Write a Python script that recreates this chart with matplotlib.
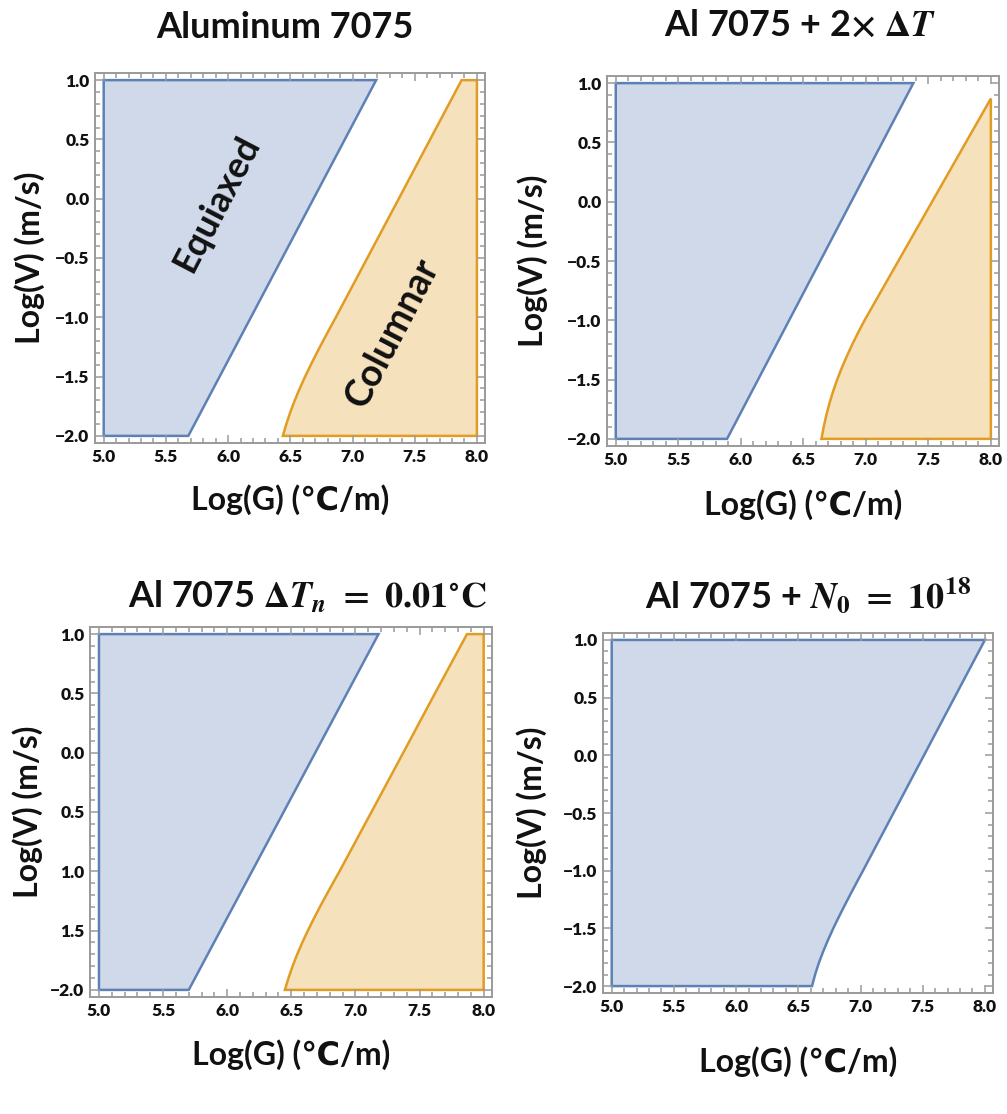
import numpy as np
import matplotlib
matplotlib.use("Agg")
import matplotlib.pyplot as plt
from matplotlib.ticker import MultipleLocator, FixedLocator, FixedFormatter

plt.rcParams['font.family'] = ['Lato', 'DejaVu Sans']
plt.rcParams['font.weight'] = 'bold'
plt.rcParams['mathtext.fontset'] = 'stix'

# --- data (log10 G in degC/m, log10 V in m/s) ---
titles = ["Aluminum 7075",
          r"Al 7075 + 2$\times$ $\Delta T$",
          r"Al 7075 $\Delta T_n\ =\ \mathbf{0.01}{}^{\circ}\mathrm{C}$",
          r"Al 7075 + $N_0\ =\ \mathbf{10^{18}}$"]

curve_v = [-2.0, -1.9, -1.8, -1.7, -1.6, -1.5, -1.4, -1.3, -1.2, -1.1, -1.0,
           -0.5, 0.0, 0.5, 1.0]
curve_v2 = [-2.0, -1.9, -1.8, -1.7, -1.6, -1.5, -1.4, -1.3, -1.2, -1.1, -1.0,
            -0.5, 0.0, 0.5, 0.87]

# equiaxed region: right-hand boundary logG at given logV
eq_v = [[-2.0, 1.0],
        [-2.0, 1.0],
        [-2.0, 1.0],
        curve_v]
eq_g = [[5.68, 7.19],
        [5.89, 7.38],
        [5.70, 7.18],
        [6.61, 6.635, 6.665, 6.70, 6.739, 6.781, 6.826, 6.873, 6.921, 6.97,
         7.02, 7.265, 7.51, 7.755, 8.0]]

# columnar region: left-hand boundary logG at given logV, closed at logG = 8
col_v = [curve_v, curve_v2, curve_v, None]
col_g = [[6.44, 6.468, 6.50, 6.536, 6.576, 6.619, 6.665, 6.713, 6.763, 6.814,
          6.866, 7.119, 7.372, 7.624, 7.877],
         [6.645, 6.663, 6.684, 6.709, 6.738, 6.771, 6.808, 6.849, 6.893, 6.94,
          6.99, 7.26, 7.53, 7.80, 8.0],
         [6.45, 6.478, 6.51, 6.546, 6.586, 6.629, 6.675, 6.723, 6.773, 6.824,
          6.876, 7.125, 7.373, 7.62, 7.87],
         None]

g_min, g_max = 5.0, 8.0
v_min, v_max = -2.0, 1.0

y_ticks = [-2.0, -1.5, -1.0, -0.5, 0.0, 0.5, 1.0]
y_labels = ["\u22122.0", "\u22121.5", "\u22121.0", "\u22120.5", "0.0", "0.5", "1.0"]
# the lower-left panel lost its minus signs in the original
y_labels_nominus = ["\u22122.0", "1.5", "1.0", "0.5", "0.0", "0.5", "1.0"]

blue_edge, blue_face = "#5E81B5", "#CFD9E9"
orange_edge, orange_face = "#E19C24", "#F6E1BD"
frame_col = "#9A9A9A"
txt = "#111111"

W, H = 1007, 1114
fig = plt.figure(figsize=(W / 100, H / 100), dpi=100)

# frame boxes in pixels: left, top, right, bottom
boxes = [(95, 73, 485, 443), (607, 76, 999, 446),
         (90, 627, 492, 997), (603, 633, 993, 993)]
title_pos = [(285, 27), (800, 25), (307, 597), (808, 595)]
ylab_x = [-0.167, -0.19, -0.154, -0.182]
xlab_y = [-0.154, -0.159, -0.157, -0.19]

for i in range(4):
    l, t, r, b = boxes[i]
    ax = fig.add_axes([l / W, 1 - b / H, (r - l) / W, (b - t) / H])

    # equiaxed polygon
    xs = [g_min, g_min] + eq_g[i][::-1]
    ys = [v_min, v_max] + eq_v[i][::-1]
    ax.fill(xs, ys, facecolor=blue_face, edgecolor=blue_edge, lw=1.8,
            joinstyle='miter')

    # columnar polygon
    if col_g[i] is not None:
        xs = col_g[i] + [g_max, g_max]
        ys = col_v[i] + [col_v[i][-1], v_min]
        ax.fill(xs, ys, facecolor=orange_face, edgecolor=orange_edge, lw=1.8,
                joinstyle='miter')

    ax.set_xlim(4.93, 8.065)
    ax.set_ylim(-2.06, 1.06)

    ax.xaxis.set_major_locator(MultipleLocator(0.5))
    ax.xaxis.set_minor_locator(MultipleLocator(0.1))
    ax.yaxis.set_major_locator(FixedLocator(y_ticks))
    ax.yaxis.set_major_formatter(FixedFormatter(y_labels_nominus if i == 2 else y_labels))
    ax.yaxis.set_minor_locator(MultipleLocator(0.1))
    ax.xaxis.set_major_formatter(matplotlib.ticker.FormatStrFormatter('%.1f'))

    ax.tick_params(which='both', direction='in', top=True, right=True,
                   color=frame_col, width=1.1)
    ax.tick_params(which='major', length=6, labelsize=12.5, labelcolor=txt, pad=4)
    ax.tick_params(which='minor', length=3.5)
    for lab in ax.get_xticklabels() + ax.get_yticklabels():
        lab.set_fontweight('heavy')
    for s in ax.spines.values():
        s.set_color(frame_col)
        s.set_linewidth(1.4)

    ax.set_ylabel("Log(V) (m/s)", fontsize=23, fontweight='bold', color=txt,
                  va='center')
    ax.yaxis.set_label_coords(ylab_x[i], 0.5)
    ax.set_xlabel("Log(G) (℃/m)", fontsize=23, fontweight='bold', color=txt,
                  va='center')
    ax.xaxis.set_label_coords(0.5, xlab_y[i])

    tx, ty = title_pos[i]
    fig.text(tx / W, 1 - ty / H, titles[i], fontsize=26, fontweight='bold',
             color=txt, ha='center', va='center')

    if i == 0:
        ax.text(5.91, -0.04, "Equiaxed", rotation=62.5, fontsize=26,
                fontweight='bold', color=txt, ha='center', va='center',
                rotation_mode='anchor')
        ax.text(7.32, -1.13, "Columnar", rotation=62.5, fontsize=27,
                fontweight='bold', color=txt, ha='center', va='center',
                rotation_mode='anchor')

fig.savefig("out.png", dpi=100)
